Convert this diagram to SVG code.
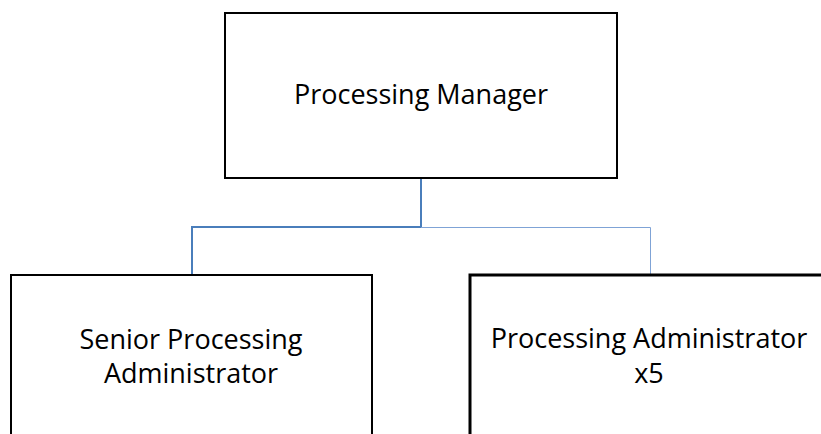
<svg xmlns="http://www.w3.org/2000/svg" width="821" height="434" viewBox="0 0 821 434">
  <style>
    .box { fill: #ffffff; stroke: #000000; stroke-width: 2; }
    .box.heavy { stroke-width: 3; }
    .label { font-family: "Open Sans", "Liberation Sans", sans-serif; font-size: 27px; fill: #000000; text-anchor: middle; }
    .link { fill: none; stroke: #4a7ebb; stroke-width: 2; }
    .link.thin { stroke: #7fa3d6; stroke-width: 1; }
  </style>
  <rect width="821" height="434" fill="#ffffff"/>

  <!-- connectors -->
  <g id="connectors">
    <path class="link" d="M421 178 V227 H192 V275"/>
    <path class="link thin" d="M421 227.5 H650.5 V275"/>
  </g>

  <!-- top role -->
  <g id="processing-manager">
    <rect class="box" x="225" y="13" width="392" height="165"/>
    <text class="label" x="421" y="104">Processing Manager</text>
  </g>

  <!-- reports -->
  <g id="senior-processing-administrator">
    <rect class="box" x="11" y="275" width="361" height="200"/>
    <text class="label" x="191" y="349">Senior Processing</text>
    <text class="label" x="191" y="383">Administrator</text>
  </g>

  <g id="processing-administrator">
    <rect class="box heavy" x="470" y="275" width="400" height="200"/>
    <text class="label" x="649" y="348">Processing Administrator</text>
    <text class="label" x="649" y="383">x5</text>
  </g>
</svg>
